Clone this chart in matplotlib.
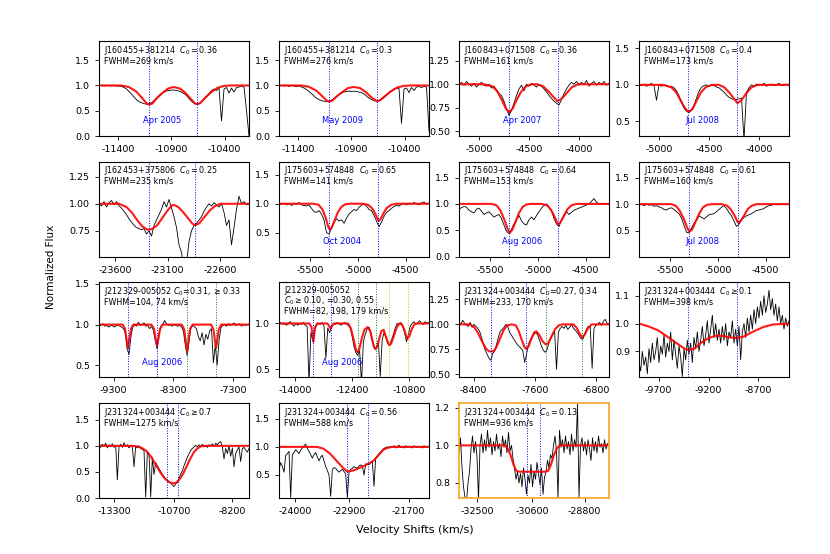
import numpy as np
import matplotlib
matplotlib.use("Agg")
import matplotlib.pyplot as plt

plt.rcParams['axes.unicode_minus'] = False

# ---- observed spectra: normalized flux, evenly sampled across each panel window
flux_1 = [1.0, 1.0, 0.99, 1.0, 1.0, 0.99, 1.0, 0.99, 0.99, 0.98,
          0.96, 0.93, 0.88, 0.83, 0.77, 0.72, 0.68, 0.66, 0.64, 0.63,
          0.64, 0.66, 0.70, 0.75, 0.80, 0.84, 0.87, 0.89, 0.90, 0.91,
          0.91, 0.90, 0.89, 0.87, 0.84, 0.80, 0.74, 0.69, 0.65, 0.63,
          0.64, 0.67, 0.72, 0.78, 0.84, 0.90, 0.93, 0.90, 0.95, 0.30,
          0.93, 0.96, 0.85, 0.95, 0.87, 0.96, 0.97, 0.98, 0.97, 0.50,
          0.0]
flux_2 = [1.01, 1.0, 0.99, 1.0, 0.98, 1.0, 0.99, 0.98, 0.99, 0.97,
          0.95, 0.92, 0.88, 0.84, 0.79, 0.75, 0.72, 0.70, 0.69, 0.68,
          0.69, 0.71, 0.74, 0.78, 0.82, 0.85, 0.87, 0.88, 0.89, 0.88,
          0.89, 0.88, 0.87, 0.86, 0.83, 0.79, 0.75, 0.72, 0.70, 0.69,
          0.70, 0.72, 0.76, 0.81, 0.86, 0.90, 0.93, 0.95, 0.94, 0.25,
          0.93, 0.95, 0.86, 0.96, 0.90, 0.97, 0.98, 0.96, 0.98, 0.97,
          0.10]
flux_3 = [1.0, 1.02, 0.99, 1.03, 1.0, 0.98, 1.01, 0.97, 1.0, 1.02,
          0.99, 0.98, 1.0, 0.96, 0.98, 0.94, 0.90, 0.88, 0.82, 0.74,
          0.67, 0.72, 0.80, 0.88, 0.95, 0.99, 0.93, 1.0, 0.98, 1.01,
          0.99, 0.97, 1.0, 0.98, 0.95, 0.92, 0.88, 0.85, 0.82, 0.80,
          0.78, 0.84, 0.90, 0.95, 0.99, 1.02, 1.0, 1.03, 0.99, 1.02,
          1.0, 1.04, 0.98, 1.01, 1.03, 0.99, 1.02, 1.0, 1.03, 0.99,
          1.01]
flux_4 = [1.0, 0.99, 1.01, 0.98, 1.0, 1.02, 0.99, 0.79, 1.0, 0.98,
          1.0, 0.99, 0.97, 0.98, 0.96, 0.92, 0.85, 0.76, 0.68, 0.64,
          0.62, 0.65, 0.72, 0.82, 0.91, 0.97, 0.99, 1.0, 0.98, 1.0,
          0.99, 0.97, 0.96, 0.93, 0.90, 0.86, 0.83, 0.81, 0.80, 0.80,
          0.81, 0.82, 0.25, 0.90, 0.96, 1.0, 0.98, 1.01, 0.99, 1.0,
          1.02, 0.98, 1.0, 1.01, 0.99, 1.0, 1.02, 0.99, 1.0, 1.01,
          0.99]
flux_5 = [1.0, 0.98, 1.02, 0.97, 1.01, 1.03, 0.99, 1.02, 0.98, 0.96,
          0.93, 0.90, 0.86, 0.83, 0.80, 0.78, 0.77, 0.76, 0.77, 0.72,
          0.75, 0.70, 0.80, 0.85, 0.90, 0.95, 1.02, 0.97, 1.04, 0.96,
          0.88, 0.78, 0.62, 0.55, 0.40, 0.45, 0.65, 0.75, 0.80, 0.82,
          0.85, 0.88, 0.93, 0.97, 1.0, 0.98, 1.01, 0.99, 0.97, 1.0,
          0.92, 0.80, 0.85, 0.62, 0.78, 0.95, 1.07, 1.0, 1.02, 0.99,
          1.0]
flux_6 = [1.0, 0.99, 1.01, 0.98, 1.0, 0.97, 1.0, 0.99, 1.02, 0.98,
          0.97, 0.96, 0.98, 0.92, 0.86, 0.85, 0.88, 0.82, 0.72, 0.50,
          0.47, 0.58, 0.68, 0.74, 0.70, 0.72, 0.66, 0.75, 0.82, 0.86,
          0.90, 0.88, 0.94, 0.97, 1.0, 0.96, 0.90, 0.88, 0.80, 0.70,
          0.60, 0.68, 0.78, 0.85, 0.88, 0.92, 0.95, 0.97, 0.96, 0.99,
          1.0, 0.98, 1.01, 0.99, 1.02, 1.0, 0.98, 1.01, 1.03, 0.99,
          1.01]
flux_7 = [0.90, 0.93, 0.95, 0.94, 0.88, 0.85, 0.83, 0.90, 0.92, 0.86,
          0.80, 0.83, 0.85, 0.80, 0.75, 0.78, 0.80, 0.72, 0.60, 0.48,
          0.44, 0.52, 0.62, 0.70, 0.78, 0.68, 0.62, 0.60, 0.70, 0.75,
          0.70, 0.78, 0.85, 0.92, 0.97, 1.0, 0.93, 0.88, 0.72, 0.62,
          0.57, 0.70, 0.78, 0.85, 0.80, 0.84, 0.88, 0.90, 0.92, 0.94,
          0.96, 0.98, 1.0, 1.05, 1.10, 1.03, 1.0, 0.99, 1.01, 1.0,
          0.99]
flux_8 = [0.98, 1.0, 0.97, 1.0, 0.98, 0.99, 0.96, 0.97, 0.95, 0.93,
          0.90, 0.89, 0.92, 0.93, 0.90, 0.86, 0.82, 0.74, 0.60, 0.47,
          0.46, 0.55, 0.64, 0.70, 0.78, 0.75, 0.72, 0.76, 0.80, 0.81,
          0.82, 0.86, 0.90, 0.94, 0.97, 0.92, 0.84, 0.78, 0.68, 0.58,
          0.62, 0.70, 0.75, 0.78, 0.80, 0.82, 0.85, 0.88, 0.89, 0.90,
          0.92, 0.95, 0.97, 0.98, 1.0, 1.0, 0.99, 1.01, 1.0, 0.99,
          1.0]
flux_9 = [1.0, 0.99, 1.01, 0.98, 0.99, 0.97, 0.98, 0.99, 0.97, 0.98,
          1.0, 0.98, 0.97, 0.95, 0.90, 0.70, 0.63, 0.85, 0.97, 1.0,
          0.98, 1.03, 0.99, 1.0, 1.02, 0.98, 0.99, 0.95, 0.98, 0.93,
          0.80, 0.70, 0.88, 0.98, 1.0, 1.05, 1.01, 0.99, 1.0, 0.98,
          1.0, 0.99, 0.98, 0.99, 0.97, 0.92, 0.75, 0.62, 0.80, 0.96,
          0.99, 0.97, 0.95, 0.85, 0.80, 0.90, 0.75, 0.88, 0.82, 0.92,
          0.95, 0.53, 0.75, 0.50, 0.80, 0.96, 0.99, 1.0, 0.98, 1.01,
          0.99, 1.0, 1.02, 0.99, 1.0, 1.01, 0.98, 1.0, 0.99, 1.0,
          1.0]
flux_10 = [1.0, 1.01, 0.99, 1.0, 0.98, 1.0, 1.02, 0.99, 0.97, 1.0,
           0.98, 1.0, 0.99, 1.01, 0.98, 0.97, 0.35, 0.90, 0.82, 0.92,
           0.98, 1.0, 0.99, 1.01, 0.97, 0.62, 0.95, 0.90, 0.97, 1.0,
           0.99, 1.01, 1.0, 0.98, 1.0, 1.01, 0.99, 0.98, 0.95, 0.86,
           0.75, 0.68, 0.65, 0.70, 0.35, 0.80, 0.88, 0.94, 0.96, 0.90,
           0.80, 0.72, 0.74, 0.80, 0.42, 0.82, 0.90, 0.85, 0.78, 0.77,
           0.82, 0.88, 0.95, 1.0, 0.99, 1.01, 0.97, 0.90, 0.80, 0.88,
           0.97, 1.0, 1.02, 0.99, 1.01, 1.03, 1.0, 0.99, 1.02, 1.0,
           1.01]
flux_11 = [1.03, 1.0, 1.04, 1.01, 0.99, 0.98, 1.02, 0.97, 1.0, 0.98,
           0.96, 0.93, 0.87, 0.80, 0.74, 0.70, 0.66, 0.64, 0.71, 0.73,
           0.80, 0.87, 0.93, 0.95, 0.97, 1.0, 0.98, 0.92, 0.89, 0.86,
           0.83, 0.80, 0.78, 0.76, 0.74, 0.62, 0.70, 0.80, 0.84, 0.88,
           0.90, 0.92, 0.89, 0.84, 0.78, 0.74, 0.72, 0.75, 0.82, 0.86,
           0.90, 0.93, 0.55, 0.92, 0.96, 0.98, 0.96, 0.99, 0.95, 0.97,
           1.0, 0.96, 0.94, 0.92, 0.89, 0.86, 0.85, 0.90, 0.95, 0.98,
           0.97, 0.56, 0.96, 0.99, 1.0, 1.02, 0.99, 1.03, 1.05, 1.01,
           1.0]
flux_12 = [0.86, 0.83, 0.90, 0.85, 0.88, 0.82, 0.91, 0.86, 0.93, 0.87,
           0.90, 0.95, 0.86, 0.92, 0.89, 0.96, 0.88, 0.93, 0.90, 0.97,
           0.87, 0.94, 0.89, 0.84, 0.92, 0.88, 0.81, 0.91, 0.87, 0.94,
           0.89, 0.93, 0.86, 0.95, 0.91, 0.97, 0.90, 0.94, 0.99, 0.92,
           0.96, 1.01, 0.93, 0.98, 1.03, 0.95, 1.00, 0.94, 0.98, 0.93,
           0.99, 0.94, 1.00, 0.92, 0.97, 0.95, 1.01, 0.93, 0.98, 0.92,
           0.99, 0.87, 0.97, 1.00, 0.95, 1.02, 0.97, 1.03, 0.98, 1.05,
           1.00, 1.06, 1.02, 1.08, 1.03, 1.10, 1.04, 1.07, 1.12, 1.05,
           1.09, 1.03, 1.07, 1.01, 1.06, 1.00, 1.03, 0.98, 1.02, 0.99,
           1.01]
flux_13 = [1.0, 0.97, 1.03, 0.99, 1.05, 0.96, 1.02, 0.98, 1.04, 0.97,
           1.01, 0.35, 0.98, 1.03, 0.97, 1.06, 0.99, 1.02, 0.96, 1.0,
           0.97, 0.60, 0.99, 0.96, 1.0, 0.95, 0.93, 0.91, 0.02, 0.88,
           0.85, 0.02, 0.78, 0.45, 0.68, 0.62, 0.56, 0.51, 0.45, 0.41,
           0.37, 0.34, 0.31, 0.29, 0.25, 0.22, 0.27, 0.30, 0.38, 0.46,
           0.52, 0.62, 0.70, 0.78, 0.85, 0.91, 0.95, 0.98, 1.01, 0.98,
           1.02, 0.99, 1.03, 0.98, 1.01, 0.97, 1.02, 1.0, 1.04, 0.99,
           1.05, 1.02, 1.06, 1.08, 0.98, 0.75, 0.95, 0.85, 1.0, 0.80,
           0.96, 0.60, 0.85, 0.92, 0.98, 0.70, 0.95, 0.97, 0.92, 0.88,
           0.95]
flux_14 = [0.60, 0.72, 0.65, 0.55, 0.85, 0.88, 0.92, 0.10, 0.86, 0.90,
           0.95, 0.92, 0.88, 0.94, 0.98, 1.02, 1.05, 0.97, 0.92, 0.86,
           0.80, 0.86, 0.90, 0.82, 0.75, 0.82, 0.85, 0.75, 0.65, 0.58,
           0.50, 0.12, 0.60, 0.63, 0.62, 0.58, 0.55, 0.58, 0.60, 0.56,
           0.52, 0.10, 0.55, 0.60, 0.62, 0.65, 0.63, 0.62, 0.66, 0.68,
           0.66, 0.50, 0.70, 0.69, 0.68, 0.72, 0.74, 0.30, 0.80, 0.84,
           0.88, 0.91, 0.95, 0.97, 0.99, 1.0, 0.98, 1.01, 0.99, 1.02,
           0.98, 1.0, 1.03, 0.99, 1.0, 0.98, 1.02, 0.99, 1.01, 1.0,
           0.98, 1.02, 1.0, 0.99, 1.01, 1.0, 0.98, 1.02, 0.99, 1.01,
           1.0]
flux_15 = [0.95, 1.04, 0.88, 0.78, 0.72, 0.70, 0.80, 0.86, 0.98, 1.05,
           0.96, 1.02, 0.94, 0.71, 1.0, 1.06, 0.96, 1.03, 0.97, 1.08,
           0.99, 1.04, 0.95, 1.02, 0.97, 1.06, 0.98, 1.01, 0.94, 1.05,
           0.99, 1.03, 0.96, 1.07, 0.97, 1.0, 0.93, 0.88, 0.82, 0.86,
           0.80, 0.85, 0.78, 0.88, 0.82, 0.74, 0.84, 0.80, 0.90, 0.78,
           0.86, 0.82, 0.91, 0.85, 0.79, 0.88, 0.74, 0.83, 0.86, 0.92,
           0.88, 0.95, 0.93, 1.0, 1.05, 0.97, 0.72, 1.08, 0.99, 1.03,
           0.96, 1.05, 0.98, 1.02, 0.95, 1.06, 0.97, 1.03, 0.99, 1.22,
           0.72, 1.0, 1.04, 0.97, 1.02, 0.95, 1.03, 0.98, 0.92, 1.04,
           0.97, 1.02, 0.96, 1.05, 0.99, 1.01, 0.96, 1.03, 0.98, 1.01,
           1.0]

# ---- fitted absorption models (velocity, flux)
fit_v_1 = [-11580, -11370, -11300, -11230, -11170, -11130, -11110, -11080, -11040, -10980, -10930, -10880,
           -10820, -10770, -10720, -10675, -10655, -10630, -10590, -10530, -10470, -10410, -10350, -10170]
fit_f_1 = [1.0, 1.0, 0.97, 0.88, 0.74, 0.64, 0.62, 0.64, 0.74, 0.86, 0.94, 0.97,
           0.94, 0.86, 0.74, 0.64, 0.63, 0.65, 0.74, 0.86, 0.95, 0.99, 1.0, 1.0]
fit_v_2 = fit_v_1
fit_f_2 = [1.0, 1.0, 0.975, 0.90, 0.78, 0.70, 0.68, 0.70, 0.78, 0.88, 0.95, 0.97,
           0.95, 0.88, 0.78, 0.71, 0.69, 0.71, 0.78, 0.88, 0.96, 0.99, 1.0, 1.0]
fit_v_3 = [-5200, -4950, -4870, -4820, -4775, -4735, -4700, -4665, -4625, -4580, -4530, -4470,
           -4420, -4360, -4310, -4260, -4215, -4170, -4120, -4070, -4010, -3700]
fit_f_3 = [1.0, 1.0, 0.98, 0.93, 0.84, 0.75, 0.70, 0.74, 0.83, 0.92, 0.98, 1.0,
           1.0, 0.98, 0.93, 0.87, 0.82, 0.85, 0.91, 0.97, 1.0, 1.0]
fit_v_4 = [-5200, -4960, -4880, -4830, -4785, -4740, -4705, -4665, -4625, -4580, -4530, -4470,
           -4400, -4350, -4300, -4250, -4215, -4175, -4130, -4080, -4020, -3700]
fit_f_4 = [1.0, 1.0, 0.97, 0.90, 0.79, 0.68, 0.63, 0.67, 0.78, 0.90, 0.97, 1.0,
           1.0, 0.97, 0.90, 0.81, 0.75, 0.79, 0.88, 0.96, 1.0, 1.0]
fit_v_5 = [-23750, -23560, -23490, -23440, -23390, -23340, -23290, -23250, -23200, -23150, -23100, -23060,
           -23040, -23000, -22960, -22910, -22870, -22840, -22800, -22750, -22700, -22650, -22600, -22330]
fit_f_5 = [1.0, 1.0, 0.97, 0.92, 0.85, 0.79, 0.76, 0.765, 0.80, 0.87, 0.94, 0.985,
           0.99, 0.97, 0.93, 0.87, 0.82, 0.80, 0.82, 0.88, 0.94, 0.98, 1.0, 1.0]
fit_v_6 = [-5825, -5460, -5410, -5370, -5335, -5310, -5295, -5275, -5245, -5210, -5170, -5130, -5080,
           -4950, -4890, -4850, -4815, -4790, -4780, -4760, -4730, -4695, -4650, -4600, -4255]
fit_f_6 = [1.0, 1.0, 0.98, 0.90, 0.75, 0.60, 0.55, 0.58, 0.70, 0.85, 0.95, 0.99, 1.0,
           1.0, 0.98, 0.92, 0.82, 0.72, 0.70, 0.74, 0.84, 0.93, 0.98, 1.0, 1.0]
fit_v_7 = [-5825, -5480, -5430, -5390, -5350, -5315, -5295, -5270, -5235, -5200, -5160, -5120, -5070,
           -4960, -4900, -4860, -4820, -4795, -4785, -4760, -4725, -4690, -4650, -4600, -4255]
fit_f_7 = [1.0, 1.0, 0.97, 0.87, 0.70, 0.52, 0.45, 0.50, 0.65, 0.82, 0.94, 0.99, 1.0,
           1.0, 0.97, 0.88, 0.74, 0.63, 0.61, 0.66, 0.78, 0.90, 0.97, 1.0, 1.0]
fit_v_8 = [-5825, -5490, -5440, -5400, -5355, -5320, -5297, -5270, -5235, -5195, -5155, -5110, -5060,
           -4960, -4900, -4860, -4820, -4795, -4785, -4760, -4720, -4685, -4645, -4595, -4255]
fit_f_8 = [1.0, 1.0, 0.97, 0.88, 0.72, 0.55, 0.48, 0.52, 0.66, 0.82, 0.94, 0.99, 1.0,
           1.0, 0.97, 0.89, 0.77, 0.67, 0.65, 0.69, 0.80, 0.91, 0.97, 1.0, 1.0]
fit_v_9 = [-9545, -9150, -9110, -9085, -9061, -9037, -9010, -8970,
           -8670, -8625, -8598, -8574, -8550, -8523, -8480,
           -8160, -8118, -8092, -8071, -8050, -8024, -7980,
           -7670, -7630, -7605, -7586, -7567, -7542, -7500, -7035]
fit_f_9 = [1.0, 1.0, 0.95, 0.82, 0.71, 0.82, 0.95, 1.0,
           1.0, 0.95, 0.83, 0.74, 0.83, 0.95, 1.0,
           1.0, 0.94, 0.78, 0.66, 0.78, 0.94, 1.0,
           1.0, 0.94, 0.80, 0.71, 0.80, 0.94, 1.0, 1.0]
fit_v_10 = [-14450, -13600, -13540, -13510, -13490, -13470, -13440, -13380,
            -13100, -13040, -13005, -12970, -12910,
            -12520, -12440, -12370, -12300, -12250, -12200, -12130, -12060, -11970, -11900,
            -11840, -11790, -11745, -11700, -11640, -11580, -11520, -11460, -11400, -11360,
            -11310, -11230, -11150, -11080, -11010, -10940, -10890, -10850, -10800, -10730,
            -10660, -10580, -10250]
fit_f_10 = [1.0, 1.0, 0.96, 0.86, 0.80, 0.86, 0.96, 1.0,
            1.0, 0.97, 0.94, 0.97, 1.0,
            1.0, 0.95, 0.84, 0.72, 0.68, 0.72, 0.84, 0.93, 0.96, 0.92,
            0.82, 0.74, 0.72, 0.75, 0.84, 0.92, 0.93, 0.86, 0.79, 0.76,
            0.78, 0.87, 0.96, 1.0, 0.99, 0.93, 0.86, 0.83, 0.86, 0.94,
            0.99, 1.0, 1.0]
fit_v_11 = [-8590, -8450, -8390, -8340, -8290, -8240, -8200, -8150, -8110, -8060, -8010, -7960, -7900,
            -7850, -7810, -7770, -7735, -7714, -7690, -7650, -7610, -7580, -7540, -7500, -7460,
            -7430, -7390, -7340, -7290, -7240, -7100, -7060, -7020, -6984, -6950, -6910, -6860, -6635]
fit_f_11 = [1.0, 1.0, 0.97, 0.91, 0.83, 0.76, 0.73, 0.73, 0.76, 0.85, 0.94, 0.99, 1.0,
            0.99, 0.93, 0.84, 0.77, 0.755, 0.77, 0.85, 0.92, 0.93, 0.89, 0.83, 0.80,
            0.81, 0.87, 0.95, 0.99, 1.0, 1.0, 0.97, 0.91, 0.87, 0.90, 0.96, 1.0, 1.0]
fit_v_12 = [-9895, -9800, -9700, -9600, -9500, -9440, -9400, -9340, -9280, -9200, -9120,
            -9050, -8980, -8917, -8850, -8760, -8650, -8550, -8395]
fit_f_12 = [1.0, 0.99, 0.975, 0.95, 0.925, 0.91, 0.905, 0.91, 0.93, 0.948, 0.957,
            0.955, 0.95, 0.948, 0.953, 0.97, 0.988, 0.997, 1.0]
fit_v_13 = [-13950, -12500, -12300, -12100, -11900, -11700, -11500, -11300, -11100, -10900, -10750,
            -10600, -10450, -10300, -10150, -10000, -9850, -9700, -9550, -9400, -7470]
fit_f_13 = [1.0, 1.0, 0.99, 0.96, 0.90, 0.79, 0.64, 0.49, 0.37, 0.30, 0.28,
            0.30, 0.37, 0.48, 0.62, 0.76, 0.88, 0.95, 0.99, 1.0, 1.0]
fit_v_14 = [-24325, -23562, -23427, -23291, -23156, -23021, -22940, -22818, -22683, -22582, -22514,
            -22413, -22311, -22210, -22108, -22007, -21285]
fit_f_14 = [1.0, 1.0, 0.97, 0.88, 0.75, 0.62, 0.56, 0.58, 0.63, 0.67, 0.70,
            0.75, 0.85, 0.95, 0.99, 1.0, 1.0]
fit_v_15 = [-33120, -31550, -31450, -31350, -31250, -31150, -31050, -30150, -30050, -29950, -29850,
            -29750, -29650, -27960]
fit_f_15 = [1.0, 1.0, 0.985, 0.95, 0.90, 0.865, 0.86, 0.86, 0.865, 0.90, 0.95,
            0.985, 1.0, 1.0]

fluxes = [flux_1, flux_2, flux_3, flux_4, flux_5, flux_6, flux_7, flux_8,
          flux_9, flux_10, flux_11, flux_12, flux_13, flux_14, flux_15]
fits = [(fit_v_1, fit_f_1), (fit_v_2, fit_f_2), (fit_v_3, fit_f_3), (fit_v_4, fit_f_4),
        (fit_v_5, fit_f_5), (fit_v_6, fit_f_6), (fit_v_7, fit_f_7), (fit_v_8, fit_f_8),
        (fit_v_9, fit_f_9), (fit_v_10, fit_f_10), (fit_v_11, fit_f_11), (fit_v_12, fit_f_12),
        (fit_v_13, fit_f_13), (fit_v_14, fit_f_14), (fit_v_15, fit_f_15)]

# velocity windows
vwin = [(-11580, -10170), (-11580, -10170), (-5200, -3700), (-5200, -3700),
        (-23750, -22330), (-5825, -4255), (-5825, -4255), (-5825, -4255),
        (-9545, -7035), (-14450, -10250), (-8590, -6635), (-9895, -8395),
        (-13950, -7470), (-24325, -21285), (-33120, -27960)]
ywin = [(0, 1.88), (0, 1.88), (0.45, 1.46), (0.3, 1.6),
        (0.51, 1.39), (0.08, 1.73), (0, 1.8), (0.01, 1.8),
        (0.35, 1.52), (0.41, 1.45), (0.47, 1.42), (0.807, 1.148),
        (0, 1.82), (0.09, 1.78), (0.72, 1.225)]
xticks = [[-11400, -10900, -10400], [-11400, -10900, -10400], [-5000, -4500, -4000], [-5000, -4500, -4000],
          [-23600, -23100, -22600], [-5500, -5000, -4500], [-5500, -5000, -4500], [-5500, -5000, -4500],
          [-9300, -8300, -7300], [-14000, -12400, -10800], [-8400, -7600, -6800], [-9700, -9200, -8700],
          [-13300, -10700, -8200], [-24000, -22900, -21700], [-32500, -30600, -28800]]
yticks = [[0, 0.5, 1.0, 1.5], [0, 0.5, 1.0, 1.5], [0.5, 0.75, 1.0, 1.25], [0.5, 1.0, 1.5],
          [0.75, 1.0, 1.25], [0.5, 1.0, 1.5], [0, 0.5, 1.0, 1.5], [0.5, 1.0, 1.5],
          [0.5, 1.0, 1.5], [0.5, 1.0], [0.5, 0.75, 1.0, 1.25], [0.9, 1.0, 1.1],
          [0, 0.5, 1.0, 1.5], [0.5, 1.0, 1.5], [0.8, 1.0, 1.2]]

# trough centres marked by dotted lines (blue / green / yellow systems)
blue_v = [[-11110, -10655], [-11110, -10655], [-4700, -4210], [-4707, -4217],
          [-23275, -22839], [-5300, -4788], [-5300, -4788], [-5300, -4788],
          [-9061, -8574], [-13490, -13005], [-8179, -7714], [-9401, -8917],
          [-11010, -10550], [-22940, -22513], [-30780, -30320]]
green_v = {8: [-8071, -7586], 9: [-12250, -11745], 10: [-7450, -6984]}
yellow_v = {9: [-11360, -10850]}

notes = [["J160455+381214  $C_0 = 0.36$", "FWHM=269 km/s"],
         ["J160455+381214  $C_0 = 0.3$", "FWHM=276 km/s"],
         ["J160843+071508  $C_0 = 0.36$", "FWHM=161 km/s"],
         ["J160843+071508  $C_0 = 0.4$", "FWHM=173 km/s"],
         ["J162453+375806  $C_0 = 0.25$", "FWHM=235 km/s"],
         ["J175603+574848  $C_0 = 0.65$", "FWHM=141 km/s"],
         ["J175603+574848  $C_0 = 0.64$", "FWHM=153 km/s"],
         ["J175603+574848  $C_0 = 0.61$", "FWHM=160 km/s"],
         ["J212329-005052 $C_0$=0.31, $\\geq$0.33", "FWHM=104, 74 km/s"],
         ["J212329-005052", "$C_0 \\geq 0.10$, =0.30, 0.55", "FWHM=82, 198, 179 km/s"],
         ["J231324+003444  $C_0$=0.27, 0.34", "FWHM=233, 170 km/s"],
         ["J231324+003444  $C_0 \\geq 0.1$", "FWHM=398 km/s"],
         ["J231324+003444  $C_0 \\geq 0.7$", "FWHM=1275 km/s"],
         ["J231324+003444  $C_0 = 0.56$", "FWHM=588 km/s"],
         ["J231324+003444  $C_0 = 0.13$", "FWHM=936 km/s"]]
epochs = {0: "Apr 2005", 1: "May 2009", 2: "Apr 2007", 3: "Jul 2008", 5: "Oct 2004",
          6: "Aug 2006", 7: "Jul 2008", 8: "Aug 2006", 9: "Aug 2006"}

fig, axs = plt.subplots(4, 4, figsize=(8.3, 5.54), dpi=100)
fig.subplots_adjust(left=0.1193, right=0.9506, top=0.926, bottom=0.101, wspace=0.2, hspace=0.27)
axs = axs.flatten()

for k in range(15):
    ax = axs[k]
    v = np.linspace(vwin[k][0], vwin[k][1], len(fluxes[k]))
    ax.plot(v, fluxes[k], color='k', lw=0.6)
    ax.plot(fits[k][0], fits[k][1], color='red', lw=1.5, alpha=0.9)
    for x in blue_v[k]:
        ax.axvline(x, color='blue', ls=':', lw=0.7)
    for x in green_v.get(k, []):
        ax.axvline(x, color='green', ls=':', lw=0.7)
    for x in yellow_v.get(k, []):
        ax.axvline(x, color='y', ls=':', lw=0.7)
    ax.set_xlim(vwin[k])
    ax.set_ylim(ywin[k])
    ax.set_xticks(xticks[k])
    ax.set_yticks(yticks[k])
    ax.tick_params(labelsize=6.8, length=3, width=0.6)
    for j, line in enumerate(notes[k]):
        y0 = 0.915 if len(notes[k]) == 3 else 0.905
        ax.text(0.035, y0 - 0.112 * j, line, transform=ax.transAxes,
                fontsize=5.8, ha='left', va='center')
    if k in epochs:
        ax.text(0.42, 0.16, epochs[k], transform=ax.transAxes, fontsize=6,
                color='blue', ha='center', va='center')

for s in axs[14].spines.values():
    s.set_color('#f5a623')
    s.set_linewidth(1.2)
axs[15].axis('off')

fig.text(0.5, 0.043, "Velocity Shifts (km/s)", ha='center', va='center', fontsize=8)
fig.text(0.062, 0.518, "Normalized Flux", ha='center', va='center', rotation=90, fontsize=7.5)

plt.savefig("out.png", dpi=100)
